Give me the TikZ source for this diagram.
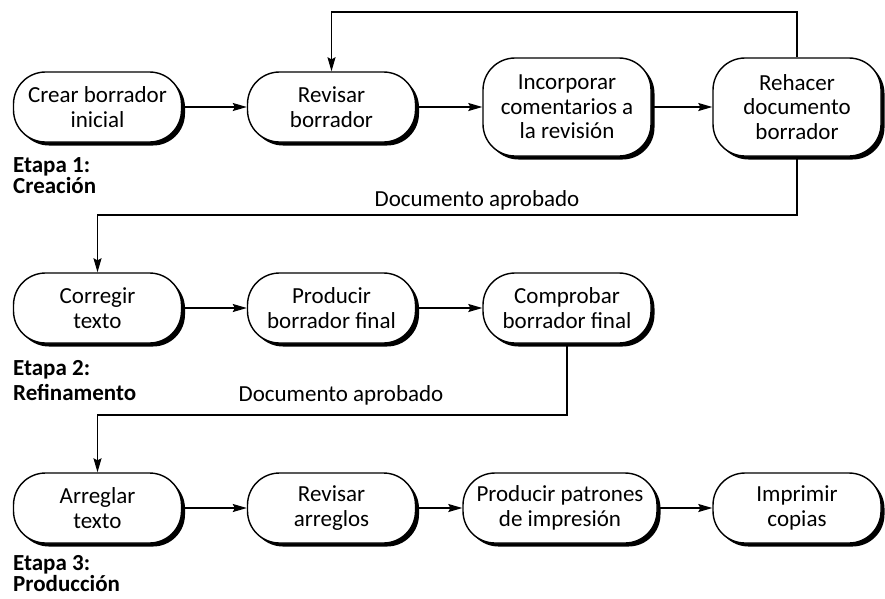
\documentclass[tikz,border=0pt]{standalone}
\usepackage{fontspec}
\setmainfont{Carlito}
\usetikzlibrary{shadows,arrows.meta}
\begin{document}
\begin{tikzpicture}[x=1pt,y=-1pt,
  proc/.style={draw, line width=1.4pt, fill=white, rounded corners=32pt,
    minimum width=168pt, minimum height=70pt, align=center, inner sep=2pt,
    font=\fontsize{23}{24.5}\selectfont,
    preaction={fill=black, transform canvas={xshift=3.5pt, yshift=-3.5pt}}},
  tall/.style={minimum height=98pt},
  arr/.style={line width=1.2pt, -{Stealth[length=14pt,width=8pt,inset=2pt]}},
  stage/.style={font=\bfseries\fontsize{23}{24}\selectfont, anchor=base west, inner sep=0pt},
  lbl/.style={font=\fontsize{23}{24}\selectfont, anchor=base, inner sep=0pt}]
\useasboundingbox (0,0) rectangle (885,598);

% Row 1
\node[proc] (crear) at (97.5,107) {Crear borrador\\inicial};
\node[proc] (revisar) at (331.5,107) {Revisar\\borrador};
\node[proc,tall] (incorp) at (567,107) {Incorporar\\comentarios a\\la revisión};
\node[proc,tall] (rehacer) at (797,107) {Rehacer\\documento\\borrador};

% Row 2
\node[proc] (corregir) at (97.5,308) {Corregir\\texto};
\node[proc] (prodfinal) at (331.5,308) {Producir\\borrador final};
\node[proc] (comprobar) at (567,308) {Comprobar\\borrador final};

% Row 3
\node[proc] (arreglar) at (97.5,508) {Arreglar\\texto};
\node[proc] (revarr) at (331.5,508) {Revisar\\arreglos};
\node[proc, minimum width=194pt] (patrones) at (560,508) {Producir patrones\\de impresión};
\node[proc] (imprimir) at (797,508) {Imprimir\\copias};

% Stage labels
\node[stage] (e1a) at (13,172) {Etapa 1:};
\node[stage] (e1b) at (13,193) {Creación};
\node[stage] (e2a) at (13,375) {Etapa 2:};
\node[stage] (e2b) at (13,400) {Refinamento};
\node[stage] (e3a) at (13,570) {Etapa 3:};
\node[stage] (e3b) at (13,591) {Producción};

% Approval labels
\node[lbl] (ap1lbl) at (477,206) {Documento aprobado};
\node[lbl] (ap2lbl) at (341,401) {Documento aprobado};

\coordinate (looptop) at (0,12);
\coordinate (ap1) at (0,215);
\coordinate (ap2) at (0,415);

% Row arrows
\draw[arr] (crear) -- (revisar);
\draw[arr] (revisar) -- (incorp);
\draw[arr] (incorp) -- (rehacer);
\draw[arr] (corregir) -- (prodfinal);
\draw[arr] (prodfinal) -- (comprobar);
\draw[arr] (arreglar) -- (revarr);
\draw[arr] (revarr) -- (patrones);
\draw[arr] (patrones) -- (imprimir);

% Loop back
\draw[arr] (rehacer.north) -- (rehacer.north |- looptop) -- (revisar.north |- looptop) -- (revisar.north);

% Approvals
\draw[arr] (rehacer.south) -- (rehacer.south |- ap1) -- (corregir.north |- ap1) -- (corregir.north);
\draw[arr] (comprobar.south) -- (comprobar.south |- ap2) -- (arreglar.north |- ap2) -- (arreglar.north);
\end{tikzpicture}
\end{document}
